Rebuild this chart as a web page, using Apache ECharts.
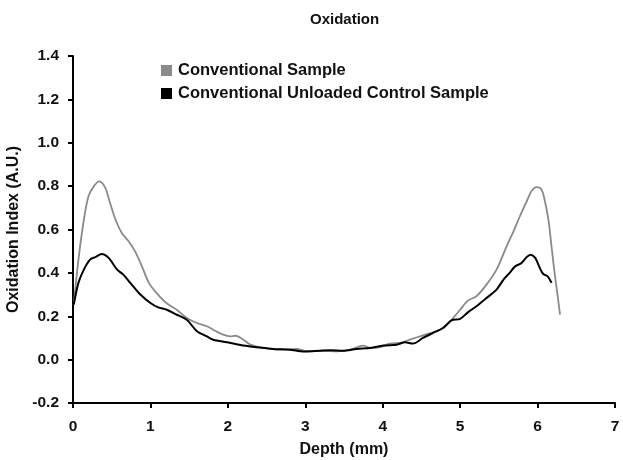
<!DOCTYPE html>
<html>
<head>
<meta charset="utf-8">
<script src="https://cdn.jsdelivr.net/npm/echarts@6/dist/echarts.min.js"></script>
<style>html,body{margin:0;padding:0;background:#fff}#c{width:623px;height:460px}</style>
</head>
<body>
<div id="c"></div>
<script>
const titleText = 'Oxidation';
const seriesNames = ['Conventional Sample', 'Conventional Unloaded Control Sample'];
const xTicks = [0, 1, 2, 3, 4, 5, 6, 7];
const yTicks = [-0.2, 0.0, 0.2, 0.4, 0.6, 0.8, 1.0, 1.2, 1.4];

const grayDepth = [0.01, 0.07, 0.14, 0.20, 0.27, 0.34, 0.42, 0.48, 0.55, 0.63, 0.72, 0.80, 0.89, 0.98, 1.08, 1.21, 1.34, 1.47, 1.60, 1.73, 1.81, 1.94, 2.03, 2.10, 2.20, 2.29, 2.46, 2.67, 2.89, 3.02, 3.23, 3.41, 3.58, 3.75, 3.84, 3.97, 4.09, 4.22, 4.35, 4.52, 4.74, 4.87, 5.00, 5.10, 5.21, 5.34, 5.47, 5.60, 5.69, 5.77, 5.86, 5.92, 5.99, 6.05, 6.09, 6.14, 6.18, 6.22, 6.26, 6.29];
const grayValue = [0.254, 0.46, 0.645, 0.753, 0.80, 0.822, 0.79, 0.72, 0.645, 0.584, 0.545, 0.50, 0.43, 0.354, 0.307, 0.26, 0.23, 0.192, 0.169, 0.154, 0.138, 0.115, 0.107, 0.11, 0.092, 0.069, 0.054, 0.046, 0.049, 0.038, 0.041, 0.038, 0.046, 0.065, 0.054, 0.058, 0.074, 0.077, 0.092, 0.112, 0.138, 0.177, 0.23, 0.272, 0.292, 0.346, 0.415, 0.522, 0.592, 0.66, 0.73, 0.776, 0.795, 0.784, 0.738, 0.645, 0.522, 0.40, 0.292, 0.207];

const blackDepth = [0.01, 0.07, 0.14, 0.22, 0.29, 0.37, 0.46, 0.57, 0.65, 0.74, 0.87, 1.00, 1.10, 1.21, 1.34, 1.47, 1.60, 1.73, 1.81, 1.99, 2.20, 2.37, 2.59, 2.80, 2.98, 3.19, 3.32, 3.49, 3.66, 3.84, 4.01, 4.18, 4.29, 4.39, 4.52, 4.65, 4.78, 4.89, 5.00, 5.10, 5.21, 5.34, 5.47, 5.56, 5.64, 5.71, 5.79, 5.86, 5.91, 5.97, 6.02, 6.07, 6.13, 6.18];
const blackValue = [0.254, 0.354, 0.415, 0.461, 0.473, 0.487, 0.469, 0.415, 0.392, 0.354, 0.30, 0.261, 0.241, 0.23, 0.207, 0.184, 0.131, 0.107, 0.092, 0.08, 0.065, 0.057, 0.049, 0.046, 0.038, 0.041, 0.043, 0.041, 0.049, 0.054, 0.065, 0.069, 0.08, 0.074, 0.10, 0.123, 0.146, 0.181, 0.188, 0.218, 0.246, 0.284, 0.323, 0.369, 0.40, 0.43, 0.445, 0.473, 0.484, 0.469, 0.43, 0.396, 0.384, 0.354];

const FONT = 'Liberation Sans';
const W = 'bold';
const INK = '#111';
const pair = (xs, ys) => xs.map((x, i) => [x, ys[i]]);

const chart = echarts.init(document.getElementById('c'));
chart.setOption({
  animation: false,
  backgroundColor: '#fff',
  textStyle: { fontFamily: FONT, color: INK },
  title: {
    text: titleText, left: 305, top: 7,
    textStyle: { fontFamily: FONT, fontSize: 15, fontWeight: W, color: INK }
  },
  legend: {
    orient: 'vertical', left: 156, top: 57, itemWidth: 11, itemHeight: 11, itemGap: 6,
    icon: 'rect',
    textStyle: { fontFamily: FONT, fontSize: 16.5, fontWeight: W, color: INK, padding: [0, 0, 0, 1] },
    data: [
      { name: seriesNames[0], itemStyle: { color: '#8a8a8a' } },
      { name: seriesNames[1], itemStyle: { color: '#000' } }
    ]
  },
  grid: { left: 73, right: 8, top: 56, bottom: 57, containLabel: false, outerBoundsMode: 'none' },
  xAxis: {
    type: 'value', min: xTicks[0], max: xTicks[xTicks.length - 1], interval: 1,
    name: 'Depth (mm)', nameLocation: 'middle', nameGap: 39,
    nameTextStyle: { fontFamily: FONT, fontSize: 16, fontWeight: W, color: INK },
    axisLine: { onZero: false, lineStyle: { color: '#000', width: 2 } },
    axisTick: { show: true, length: 5, lineStyle: { color: '#000', width: 2 } },
    axisLabel: { fontFamily: FONT, fontSize: 15.5, fontWeight: W, color: INK, margin: 16 },
    splitLine: { show: false }
  },
  yAxis: {
    type: 'value', min: yTicks[0], max: yTicks[yTicks.length - 1], interval: 0.2,
    name: 'Oxidation Index (A.U.)', nameLocation: 'middle', nameGap: 42,
    nameTextStyle: { fontFamily: FONT, fontSize: 16, fontWeight: W, color: INK },
    axisLine: { onZero: false, lineStyle: { color: '#000', width: 2 } },
    axisTick: { show: true, length: 5, lineStyle: { color: '#000', width: 2 } },
    axisLabel: { fontFamily: FONT, fontSize: 15.5, fontWeight: W, color: INK, margin: 14,
      formatter: v => v.toFixed(1) },
    splitLine: { show: false }
  },
  series: [
    { name: seriesNames[0], type: 'line', data: pair(grayDepth, grayValue), showSymbol: false,
      smooth: 0.3, lineStyle: { color: '#8a8a8a', width: 1.8 }, itemStyle: { color: '#8a8a8a' }, z: 2 },
    { name: seriesNames[1], type: 'line', data: pair(blackDepth, blackValue), showSymbol: false,
      smooth: 0.3, lineStyle: { color: '#000', width: 2 }, itemStyle: { color: '#000' }, z: 3 }
  ]
});
</script>
</body>
</html>
